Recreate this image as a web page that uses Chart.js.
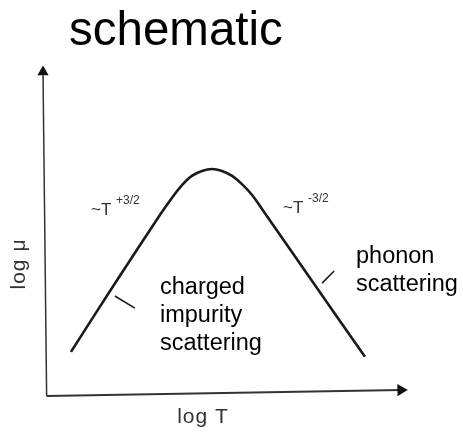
<!DOCTYPE html>
<html>
<head>
<meta charset="utf-8">
<script src="https://cdn.jsdelivr.net/npm/chart.js@4/dist/chart.umd.min.js"></script>
<style>
  html, body { margin: 0; padding: 0; background: #fff; }
  #wrap { width: 463px; height: 433px; position: relative; }
</style>
</head>
<body>
<div id="wrap"><canvas id="c" width="463" height="433"></canvas></div>
<script>
// ---- data (schematic units: log T on x, log mu on y, 0..100) ----
const curveX = [7.7, 19.8, 32.2, 35.5, 38.3, 41.0, 43.8, 46.6, 49.3, 52.1, 54.8, 57.6, 60.9, 74.8, 88.7];
const curveY = [13.4, 34.2, 55.0, 60.2, 64.1, 66.9, 68.4, 69.0, 68.4, 66.9, 64.4, 61.1, 55.9, 33.9, 11.9];
const leftPointerX = [19.8, 25.3];
const leftPointerY = [30.4, 26.7];
const rightPointerX = [76.9, 80.2];
const rightPointerY = [34.3, 38.0];
const yAxisX = [1.0, 0.0];
const yAxisY = [0, 98.5];
const xAxisX = [1.0, 98.6];
const xAxisY = [0, 1.8];

const titleText = "schematic";
const xAxisLabel = "log T";
const yAxisLabel = "log \u03BC";
const leftSlopeBase = "~T";
const leftSlopeExp = "+3/2";
const rightSlopeBase = "~T";
const rightSlopeExp = "-3/2";
const leftNote = ["charged", "impurity", "scattering"];
const rightNote = ["phonon", "scattering"];

const pts = (xs, ys) => xs.map((x, i) => ({ x: x, y: ys[i] }));

const ink = '#1a1a1a';

const textPlugin = {
  id: 'texts',
  afterDraw(chart) {
    const ctx = chart.ctx;
    ctx.save();
    ctx.textBaseline = 'alphabetic';
    ctx.textAlign = 'left';
    // title
    ctx.fillStyle = '#000';
    ctx.font = '47.5px "Liberation Sans", Arial, sans-serif';
    ctx.fillText(titleText, 69, 45);
    // slope labels
    ctx.fillStyle = '#333';
    ctx.font = '17px "Liberation Sans", Arial, sans-serif';
    ctx.fillText(leftSlopeBase, 91, 215);
    ctx.fillText(rightSlopeBase, 283, 213);
    ctx.font = '12px "Liberation Sans", Arial, sans-serif';
    ctx.fillText(leftSlopeExp, 116, 204);
    ctx.fillText(rightSlopeExp, 308, 202);
    // notes
    ctx.fillStyle = '#000';
    ctx.font = '23.5px "Liberation Sans", Arial, sans-serif';
    leftNote.forEach((t, i) => ctx.fillText(t, 160, 294 + i * 28));
    rightNote.forEach((t, i) => ctx.fillText(t, 356, 263 + i * 28));
    // axis labels
    ctx.fillStyle = '#333';
    ctx.font = '21px "Liberation Sans", Arial, sans-serif';
    ctx.letterSpacing = '1px';
    ctx.textAlign = 'center';
    ctx.fillText(xAxisLabel, 203, 423);
    ctx.translate(25, 264);
    ctx.rotate(-Math.PI / 2);
    ctx.fillText(yAxisLabel, 0, 0);
    ctx.restore();
  }
};

new Chart(document.getElementById('c'), {
  type: 'scatter',
  data: {
    datasets: [
      { data: pts(curveX, curveY), showLine: true, borderColor: ink, borderWidth: 2.6,
        pointRadius: 0, tension: 0.35, clip: false },
      { data: pts(leftPointerX, leftPointerY), showLine: true, borderColor: ink, borderWidth: 1.6, pointRadius: 0, clip: false },
      { data: pts(rightPointerX, rightPointerY), showLine: true, borderColor: ink, borderWidth: 1.6, pointRadius: 0, clip: false },
      { data: pts(yAxisX, yAxisY), showLine: true, borderColor: '#333', borderWidth: 1.5,
        pointRadius: [0, 5], pointStyle: 'triangle', rotation: -0.3,
        backgroundColor: '#111', pointBorderColor: '#111', clip: false },
      { data: pts(xAxisX, xAxisY), showLine: true, borderColor: '#333', borderWidth: 2,
        pointRadius: [0, 5], pointStyle: 'triangle', rotation: 89,
        backgroundColor: '#111', pointBorderColor: '#111', clip: false }
    ]
  },
  options: {
    responsive: false,
    animation: false,
    events: [],
    layout: { padding: { left: 43, right: 57, top: 67, bottom: 37 } },
    plugins: { legend: { display: false }, tooltip: { enabled: false }, title: { display: false } },
    scales: {
      x: { type: 'linear', min: 0, max: 100, display: false },
      y: { type: 'linear', min: 0, max: 100, display: false }
    }
  },
  plugins: [textPlugin]
});
</script>
</body>
</html>
